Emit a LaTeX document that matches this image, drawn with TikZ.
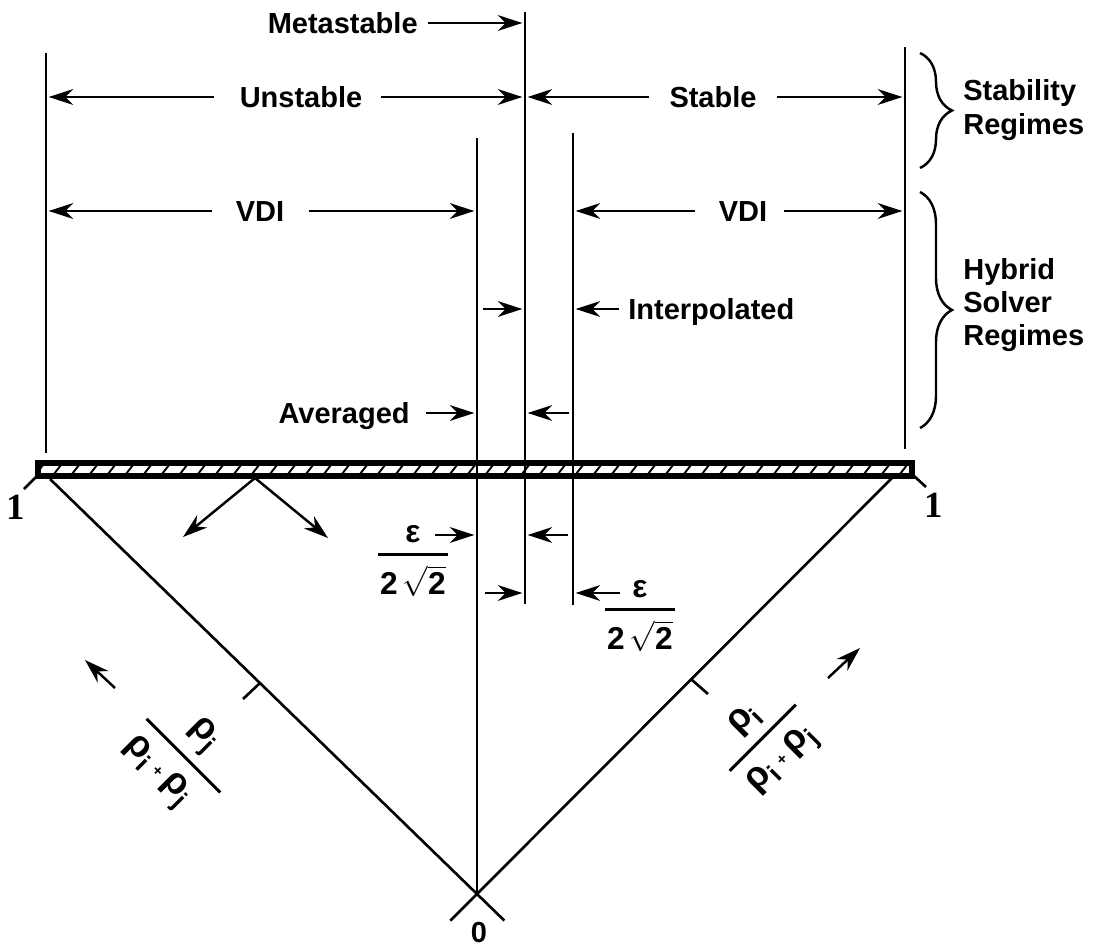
\documentclass[tikz,border=0pt]{standalone}
\usepackage{amsmath}
\usepackage{fontspec}
\setmainfont{Liberation Sans}
\newfontfamily\onefont{Liberation Serif}
\usetikzlibrary{arrows.meta, calc, positioning, decorations.pathreplacing}

\newcommand{\thickfrac}[2]{\genfrac{}{}{1.7pt}{0}{#1}{#2}}

\begin{document}
\begin{tikzpicture}[x=0.02cm, y=-0.02cm,
  lbl/.style={font=\bfseries\fontsize{16.5}{19}\selectfont, inner sep=0pt, text height=11.8pt, text depth=0pt},
  blk/.style={font=\bfseries\fontsize{16.5}{19}\selectfont, inner sep=0pt, align=left, anchor=west},
  frac/.style={font=\bfseries\fontsize{18}{21}\selectfont, inner sep=0pt},
  dim/.style={-{Stealth[length=14pt,width=9pt,inset=4.5pt]}, line width=1.4pt, shorten >=1.5pt},
  rule/.style={line width=1.5pt},
  regbrace/.style={decorate, decoration={brace, amplitude=0.64cm}, line width=1.4pt}]
\useasboundingbox (0,0) rectangle (1096,946);

% Regime boundaries
\coordinate (L) at (46,0);
\coordinate (A) at (477,0);
\coordinate (M) at (525,0);
\coordinate (I) at (573,0);
\coordinate (R) at (905,0);
\coordinate (O) at (477,894);
\draw[rule] (46,53) -- (46,453);
\draw[rule] (905,47) -- (905,449);
\draw[rule] (525,12) -- (525,604);
\draw[rule] (573,133) -- (573,605);
\draw[rule] (477,138) -- (O);

% Hatched bar
\draw[line width=3.4pt] (38,463) rectangle (912,476);
\begin{scope}
  \clip (40,465) rectangle (910,474);
  \foreach \x in {36,54,...,920}
    \draw[line width=1.1pt] (\x,474) -- (\x+7,465);
\end{scope}
\draw[rule] (36,477) -- (24,489);
\draw[rule] (914,476) -- (926,487);
\node[font=\onefont\bfseries\fontsize{21}{21}\selectfont, inner sep=0pt] (oneL) at (16,507) {1};
\node[font=\onefont\bfseries\fontsize{21}{21}\selectfont, inner sep=0pt] (oneR) at (934,505) {1};

% Triangle sides
\coordinate (PL) at (50,479);
\coordinate (PR) at (893,477);
\draw[rule] (PL) -- ($(PL)!1.064!(O)$);
\draw[rule] (PR) -- ($(PR)!1.064!(O)$);
\draw[rule] (260,683) -- (243,699);
\draw[rule] (692,680) -- (708,694);
\node[lbl] (zero) at (479,932) {0};

% Arrows off the bar
\coordinate (src) at (255,478);
\draw[dim, shorten >=0pt] (src) -- (183,537);
\draw[dim, shorten >=0pt] (src) -- (328,538);

% Stability regimes
\node[lbl, anchor=east] (meta) at (418,23) {Metastable};
\draw[dim] ($(meta.east)+(10,0)$) -- (meta.east -| M);
\node[lbl] (unst) at (301,97) {Unstable};
\draw[dim] ($(unst.west)+(-25,0)$) -- (unst.west -| L);
\draw[dim] ($(unst.east)+(18,0)$) -- (unst.east -| M);
\node[lbl] (stab) at (713,97) {Stable};
\draw[dim] ($(stab.west)+(-20,0)$) -- (stab.west -| M);
\draw[dim] ($(stab.east)+(20,0)$) -- (stab.east -| R);

% Hybrid solver regimes
\node[lbl] (vdiL) at (260,211) {VDI};
\draw[dim] ($(vdiL.west)+(-23,0)$) -- (vdiL.west -| L);
\draw[dim] ($(vdiL.east)+(24,0)$) -- (vdiL.east -| A);
\node[lbl] (vdiR) at (743,211) {VDI};
\draw[dim] ($(vdiR.west)+(-23,0)$) -- (vdiR.west -| I);
\draw[dim] ($(vdiR.east)+(16,0)$) -- (vdiR.east -| R);
\node[lbl, anchor=west] (interp) at (628,309) {Interpolated};
\draw[dim] ($(interp.west)+(-9,0)$) -- (interp.west -| I);
\draw[dim] ($(A |- interp.west)+(6,0)$) -- (interp.west -| M);
\node[lbl, anchor=east] (avg) at (410,413) {Averaged};
\draw[dim] ($(avg.east)+(16,0)$) -- (avg.east -| A);
\draw[dim] ($(I |- avg.east)+(-4,0)$) -- (avg.east -| M);

% Interpolation widths
\coordinate (e1) at (0,535);
\coordinate (e2) at (0,593);
\node[frac] (epsL) at (413,561) {$\thickfrac{\text{ε}}{\hspace{1pt}\text{2}\,\sqrt{\text{2}}\hspace{1pt}}$};
\node[frac] (epsR) at (640,616) {$\thickfrac{\text{ε}}{\hspace{1pt}\text{2}\,\sqrt{\text{2}}\hspace{1pt}}$};
\draw[dim] ($(A |- e1)+(-42,0)$) -- (A |- e1);
\draw[dim] ($(I |- e1)+(-5,0)$) -- (M |- e1);
\draw[dim] ($(A |- e2)+(8,0)$) -- (M |- e2);
\draw[dim] ($(I |- e2)+(47,0)$) -- (I |- e2);

% Mass fraction axes
\node[frac, font=\bfseries\fontsize{21}{24}\selectfont, rotate=-45] (fracL) at (182,757)
  {$\thickfrac{\text{ρ}_{\text{j}}}{\hspace{2pt}\text{ρ}_{\text{i}}\,\text{\small +}\,\text{ρ}_{\text{j}}\hspace{10pt}}$};
\node[frac, font=\bfseries\fontsize{21}{24}\selectfont, rotate=45] (fracR) at (766,741)
  {$\thickfrac{\text{ρ}_{\text{i}}}{\hspace{2pt}\text{ρ}_{\text{i}}\,\text{\small +}\,\text{ρ}_{\text{j}}\hspace{4pt}}$};
\draw[dim, shorten >=0pt] (115,688) -- (85,660);
\draw[dim, shorten >=0pt] (828,678) -- (860,648);

% Braces
\draw[regbrace] (920,53) -- (920,168);
\draw[regbrace] (920,192) -- (920,428);
\node[blk] (stabreg) at (963,110) {Stability\\Regimes};
\node[blk] (hybreg) at (963,305) {Hybrid\\Solver\\Regimes};
\end{tikzpicture}
\end{document}
